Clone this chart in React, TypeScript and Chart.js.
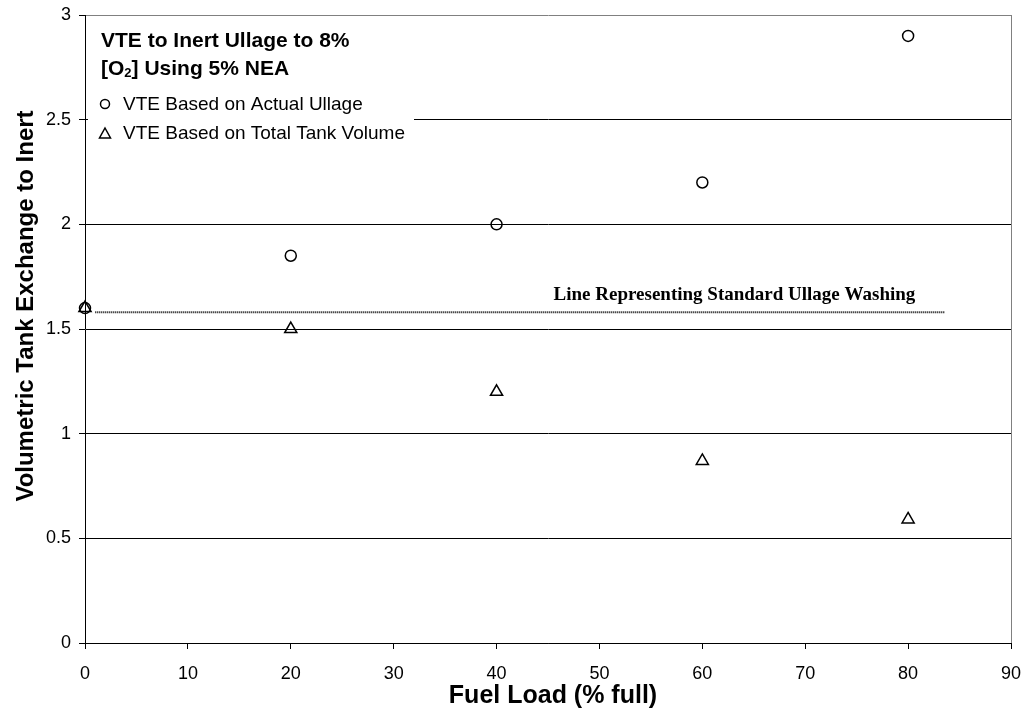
import React, { useEffect, useRef } from "react";
import { Chart, registerables } from "chart.js";

Chart.register(...registerables);

const fuelLoad = [0, 20, 40, 60, 80];
const vteActualUllage = [1.6, 1.85, 2.0, 2.2, 2.9];
const vteTotalVolume = [1.6, 1.5, 1.2, 0.87, 0.59];
const washingLineX = [1, 83.6];
const washingLineY = [1.58, 1.58];
const washingLabel = "Line Representing Standard Ullage Washing";
const washingLabelAt = { x: 80.7, y: 1.64 };
const legendTitle = ["VTE to Inert Ullage to 8%", ["[O", "2", "] Using 5% NEA"]];
const seriesNames = ["VTE Based on Actual Ullage", "VTE Based on Total Tank Volume"];
const xTitle = "Fuel Load (% full)";
const yTitle = "Volumetric Tank Exchange to Inert";

const SANS = '"Liberation Sans", Arial, sans-serif';
const SERIF = '"Liberation Serif", "Times New Roman", serif';

export default function App() {
  const ref = useRef<HTMLCanvasElement>(null);
  useEffect(() => {
    document.body.style.margin = "0";
    const canvas = ref.current!;
    const overlay = {
      id: "overlay",
      afterDatasetsDraw(chart: any) {
        const ctx = chart.ctx;
        ctx.save();
        // legend box
        ctx.fillStyle = "#fff";
        ctx.fillRect(88, 16, 326, 137);
        ctx.fillStyle = "#000";
        ctx.textAlign = "left";
        ctx.textBaseline = "alphabetic";
        ctx.font = `bold 21px ${SANS}`;
        ctx.fillText(legendTitle[0] as string, 101, 47);
        const parts = legendTitle[1] as string[];
        let x = 101;
        ctx.fillText(parts[0], x, 75);
        x += ctx.measureText(parts[0]).width;
        ctx.font = `bold 13px ${SANS}`;
        ctx.fillText(parts[1], x, 77);
        x += ctx.measureText(parts[1]).width;
        ctx.font = `bold 21px ${SANS}`;
        ctx.fillText(parts[2], x, 75);
        // entries
        ctx.font = `19px ${SANS}`;
        ctx.fillText(seriesNames[0], 123, 110);
        ctx.fillText(seriesNames[1], 123, 139);
        ctx.strokeStyle = "#000";
        ctx.lineWidth = 1.5;
        ctx.beginPath();
        ctx.arc(105, 104, 4.5, 0, Math.PI * 2);
        ctx.stroke();
        ctx.beginPath();
        ctx.moveTo(105, 128);
        ctx.lineTo(110.5, 138);
        ctx.lineTo(99.5, 138);
        ctx.closePath();
        ctx.stroke();
        // washing label
        const xs = chart.scales.x;
        const ys = chart.scales.y;
        ctx.font = `bold 19px ${SERIF}`;
        ctx.textAlign = "right";
        ctx.fillText(washingLabel, xs.getPixelForValue(washingLabelAt.x), ys.getPixelForValue(washingLabelAt.y));
        // axis titles
        ctx.font = `bold 25px ${SANS}`;
        ctx.textAlign = "center";
        ctx.fillText(xTitle, 553, 703);
        ctx.font = `bold 24px ${SANS}`;
        ctx.translate(33, 306);
        ctx.rotate(-Math.PI / 2);
        ctx.fillText(yTitle, 0, 0);
        ctx.restore();
      },
    };
    const chart = new Chart(canvas, {
      type: "scatter",
      data: {
        datasets: [
          {
            label: seriesNames[0],
            data: fuelLoad.map((x, i) => ({ x, y: vteActualUllage[i] })),
            pointStyle: "circle",
            pointRadius: 5.5,
            borderColor: "#000",
            backgroundColor: "rgba(0,0,0,0)",
            pointBorderWidth: 1.5,
            clip: false,
          } as any,
          {
            label: seriesNames[1],
            data: fuelLoad.map((x, i) => ({ x, y: vteTotalVolume[i] })),
            pointStyle: "triangle",
            pointRadius: 7,
            borderColor: "#000",
            backgroundColor: "rgba(0,0,0,0)",
            pointBorderWidth: 1.5,
            clip: false,
          } as any,
          {
            type: "line",
            label: "washing",
            data: washingLineX.map((x, i) => ({ x, y: washingLineY[i] })),
            borderColor: "#000",
            borderWidth: 2,
            borderDash: [1, 1],
            pointRadius: 0,
            showLine: true,
            fill: false,
          } as any,
        ],
      },
      options: {
        responsive: false,
        animation: false,
        layout: { padding: { top: 15, right: 16, left: 0, bottom: 0 } },
        plugins: { legend: { display: false }, tooltip: { enabled: false } },
        scales: {
          x: {
            type: "linear",
            min: 0,
            max: 90,
            afterFit: (s: any) => {
              s.height = 68;
              s.paddingLeft = 0;
              s.paddingRight = 0;
            },
            ticks: { stepSize: 10, color: "#000", font: { family: SANS, size: 18 }, padding: 14, callback: (v: any) => String(v) },
            grid: {
              drawOnChartArea: true,
              color: (c: any) => (c.tick && c.tick.value === 90 ? "#808080" : "rgba(0,0,0,0)"),
              tickColor: "#000",
              tickLength: 6,
            },
            border: { color: "#000", width: 1 },
          },
          y: {
            type: "linear",
            min: 0,
            max: 3,
            afterFit: (s: any) => {
              s.width = 85;
              s.paddingTop = 0;
              s.paddingBottom = 0;
            },
            ticks: { stepSize: 0.5, color: "#000", font: { family: SANS, size: 18 }, padding: 8, callback: (v: any) => String(v) },
            grid: {
              color: (c: any) => (c.tick && c.tick.value === 3 ? "#808080" : "#000"),
              tickColor: "#000",
              tickLength: 6,
            },
            border: { color: "#000", width: 1 },
          },
        },
      } as any,
      plugins: [overlay],
    });
    return () => chart.destroy();
  }, []);
  return <canvas ref={ref} width={1027} height={711} style={{ display: "block" }} />;
}
